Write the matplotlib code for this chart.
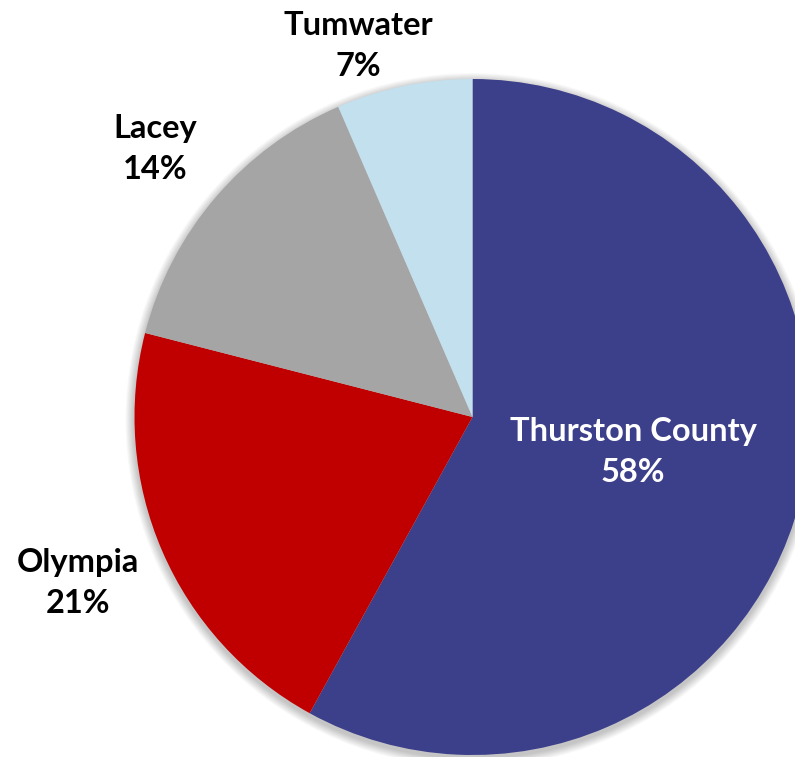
import matplotlib.pyplot as plt
from matplotlib.patches import Circle

labels = ['Thurston County', 'Olympia', 'Lacey', 'Tumwater']
shares = [58, 21, 14.5, 6.5]
pct_text = ['58%', '21%', '14%', '7%']
colors = ['#3C3F8A', '#C00000', '#A5A5A5', '#C3E0EE']

W, H = 795, 757
fig = plt.figure(figsize=(W / 100, H / 100), dpi=100)
ax = fig.add_axes([0, 0, 1, 1])

cx, cy, r = 472.5, H - 417, 338

# soft shadow behind the pie
for k in range(10, 0, -1):
    ax.add_patch(Circle((cx, cy - 3), r + k * 0.9, color='black',
                        alpha=0.025, lw=0, zorder=0))

ax.pie(shares, colors=colors, startangle=90, counterclock=False,
       center=(cx, cy), radius=r, frame=True,
       wedgeprops=dict(linewidth=0))
ax.set_xlim(0, W)
ax.set_ylim(0, H)
ax.set_aspect('equal')
ax.axis('off')

font = dict(family=['Lato', 'DejaVu Sans'], fontsize=23.5, fontweight='bold',
            ha='center', va='center', linespacing=1.5)
label_pos = [(633, 452), (78, 583), (155, 149), (358, 46)]
for i, (name, pct, (x, y)) in enumerate(zip(labels, pct_text, label_pos)):
    c = 'white' if i == 0 else 'black'
    ax.text(x, H - y, name + '\n' + pct, color=c, **font)

fig.savefig('out.png', dpi=100)
